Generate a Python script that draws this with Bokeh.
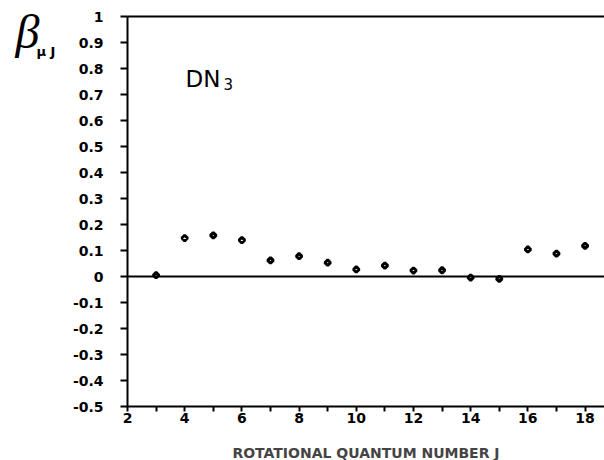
from bokeh.plotting import figure
from bokeh.models import (Range1d, FixedTicker, LinearAxis, Label, ColumnDataSource)
from bokeh.embed import file_html
from bokeh.resources import INLINE
import math

# Data
J = [3, 4, 5, 6, 7, 8, 9, 10, 11, 12, 13, 14, 15, 16, 17, 18]
beta = [0.005, 0.148, 0.158, 0.140, 0.062, 0.078, 0.053, 0.027, 0.042,
        0.023, 0.024, -0.004, -0.009, 0.104, 0.088, 0.118]
x_ticks = [2, 4, 6, 8, 10, 12, 14, 16, 18]
x_minor = [3, 5, 7, 9, 11, 13, 15, 17]
y_ticks = [-0.5, -0.4, -0.3, -0.2, -0.1, 0, 0.1, 0.2, 0.3, 0.4, 0.5, 0.6, 0.7, 0.8, 0.9, 1.0]
y_tick_labels = ["-0.5", "-0.4", "-0.3", "-0.2", "-0.1", "0", "0.1", "0.2", "0.3",
                 "0.4", "0.5", "0.6", "0.7", "0.8", "0.9", "1"]
x_title = "ROTATIONAL QUANTUM NUMBER J"
molecule = "DN"
molecule_sub = "3"
y_symbol = "\u03b2"
y_subscript = "\u03bc J"

FONT = "DejaVu Sans"
W, H = 604, 460
# axes box in pixels
L, R, T, B = 127, 596, 16, 406
XMIN, XMAX = 2.0, 18.4
YMIN, YMAX = -0.5, 1.0
sx = (R - L) / (XMAX - XMIN)
sy = (B - T) / (YMAX - YMIN)
x_lo = XMIN - L / sx
x_hi = XMIN + (W - L) / sx
y_lo = YMIN - (H - B) / sy
y_hi = YMAX + T / sy

p = figure(width=W, height=H, output_backend="svg", toolbar_location=None,
           x_range=Range1d(x_lo, x_hi), y_range=Range1d(y_lo, y_hi),
           min_border=0, min_border_left=0, min_border_right=0,
           min_border_top=0, min_border_bottom=0,
           x_axis_location=None, y_axis_location=None)
p.outline_line_color = None
p.xgrid.visible = False
p.ygrid.visible = False
p.background_fill_color = "white"
p.border_fill_color = "white"

# x axis
xa = LinearAxis(fixed_location=YMIN, bounds=(XMIN, x_hi + 10 / sx))
xa.ticker = FixedTicker(ticks=x_ticks, minor_ticks=x_minor)
xa.axis_line_width = 2
xa.major_tick_in = 0
xa.major_tick_out = 5
xa.minor_tick_in = 0
xa.minor_tick_out = 5
xa.major_tick_line_width = 2
xa.minor_tick_line_width = 2
xa.major_label_standoff = 1
xa.major_label_text_font = FONT
xa.major_label_text_font_style = "bold"
xa.major_label_text_font_size = "14px"
xa.major_label_text_color = "black"
xa.axis_label = x_title
xa.axis_label_text_font = FONT
xa.axis_label_text_font_style = "bold"
xa.axis_label_text_font_size = "14px"
xa.axis_label_standoff = 19
p.add_layout(xa, "below")

# y axis
ya = LinearAxis(fixed_location=XMIN, bounds=(YMIN, YMAX))
ya.ticker = FixedTicker(ticks=y_ticks, minor_ticks=[])
ya.major_label_overrides = {t: l for t, l in zip(y_ticks, y_tick_labels)}
ya.axis_line_width = 2
ya.major_tick_in = 0
ya.major_tick_out = 7
ya.major_tick_line_width = 2
ya.major_label_standoff = 17
ya.major_label_text_font = FONT
ya.major_label_text_font_style = "bold"
ya.major_label_text_font_size = "14px"
ya.major_label_text_color = "black"
p.add_layout(ya, "left")

# top line and zero line (plain axis lines)
for loc in (YMAX, 0.0):
    ln = LinearAxis(fixed_location=loc, bounds=(XMIN, x_hi), ticker=FixedTicker(ticks=[]),
                    axis_line_width=2, major_tick_out=0, major_tick_in=0,
                    minor_tick_out=0, minor_tick_in=0,
                    major_label_text_font_size="0px")
    p.add_layout(ln, "above")

src = ColumnDataSource(dict(J=J, beta=beta))
p.scatter("J", "beta", source=src, marker="square", angle=math.pi / 4, size=4,
          fill_color="white", line_color="black", line_width=3)

# annotations (screen units: from left / bottom of the canvas)
p.add_layout(Label(x=15, y=H - 31, x_units="screen", y_units="screen", text=y_symbol,
                   text_font="Liberation Serif", text_font_style="italic",
                   text_font_size="48px", text_baseline="alphabetic", text_color="black"))
p.add_layout(Label(x=36, y=H - 51, x_units="screen", y_units="screen", text=y_subscript,
                   text_font=FONT, text_font_style="bold",
                   text_font_size="13px", text_baseline="alphabetic", text_color="black"))
p.add_layout(Label(x=185, y=H - 78, x_units="screen", y_units="screen", text=molecule,
                   text_font=FONT, text_font_size="23px",
                   text_baseline="alphabetic", text_color="black"))
p.add_layout(Label(x=223, y=H - 83, x_units="screen", y_units="screen", text=molecule_sub,
                   text_font=FONT, text_font_size="15px",
                   text_baseline="alphabetic", text_color="black"))

open("out.html", "w").write(file_html(p, INLINE))
